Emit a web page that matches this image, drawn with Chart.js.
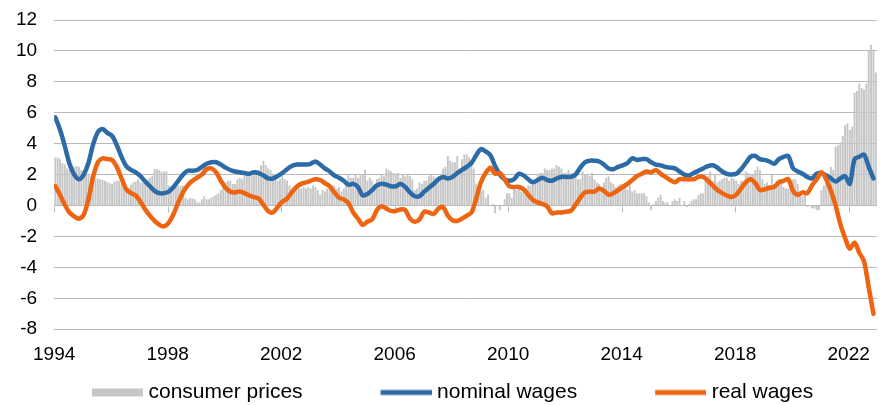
<!DOCTYPE html>
<html>
<head>
<meta charset="utf-8">
<title>Wages and consumer prices</title>
<script src="https://cdn.jsdelivr.net/npm/chart.js@4.4.1/dist/chart.umd.min.js"></script>
<style>
  html, body { margin: 0; padding: 0; background: #fff; }
  #wrap { width: 885px; height: 405px; }
</style>
</head>
<body>
<div id="wrap"><canvas id="wageChart"></canvas></div>
<script>
// Monthly series start in January of this year
const startYear = 1994;
const tickYears = [1994, 1998, 2002, 2006, 2010, 2014, 2018, 2022];

// Consumer prices, % yoy, one value per month (Jan 1994 - Dec 2022)
const consumerPrices = [
  3.1, 3.1, 3.0, 2.75, 2.65, 2.4, 2.3, 2.45, 2.5, 2.55, 2.5, 2.3,
  2.2, 2.1, 2.0, 1.9, 1.8, 1.7, 1.75, 1.7, 1.65, 1.6, 1.5, 1.45,
  1.4, 1.55, 1.6, 1.6, 1.45, 1.3, 1.2, 1.15, 1.35, 1.5, 1.55, 1.7,
  1.5, 1.45, 1.55, 1.7, 1.8, 1.9, 2.35, 2.35, 2.3, 2.15, 2.2, 2.2,
  1.3, 1.2, 1.25, 1.3, 1.3, 1.25, 1.3, 0.5, 0.4, 0.5, 0.45, 0.4,
  0.2, 0.2, 0.4, 0.6, 0.4, 0.4, 0.5, 0.6, 0.7, 0.8, 1.0, 1.2,
  1.5, 1.6, 1.6, 1.4, 1.4, 1.7, 1.8, 1.7, 2.0, 2.0, 2.1, 1.9,
  2.2, 2.3, 2.3, 2.6, 2.9, 2.6, 2.4, 2.3, 2.0, 1.8, 1.6, 1.7,
  1.9, 1.7, 1.6, 1.3, 1.1, 0.9, 1.1, 1.1, 1.1, 1.2, 1.1, 1.2,
  1.1, 1.3, 1.2, 1.0, 0.7, 1.0, 0.9, 1.1, 1.1, 1.2, 1.3, 1.1,
  1.2, 0.9, 1.1, 1.6, 2.0, 1.8, 1.8, 2.0, 1.8, 2.0, 2.0, 2.3,
  1.6, 1.8, 1.6, 1.4, 1.7, 1.8, 2.0, 1.9, 2.4, 2.3, 2.2, 2.1,
  2.0, 2.1, 1.8, 2.0, 1.9, 2.0, 1.9, 1.7, 1.0, 1.1, 1.5, 1.4,
  1.6, 1.6, 1.9, 2.0, 1.9, 1.8, 1.9, 1.9, 2.4, 2.5, 3.2, 2.9,
  2.8, 2.8, 3.2, 2.4, 3.0, 3.3, 3.3, 3.1, 2.9, 2.4, 1.4, 1.1,
  0.9, 1.0, 0.5, 0.7, 0.0, 0.1, -0.5, 0.0, -0.3, 0.0, 0.4, 0.8,
  0.8, 0.5, 1.1, 1.0, 1.2, 0.9, 1.2, 1.0, 1.3, 1.3, 1.5, 1.7,
  2.0, 2.1, 2.1, 2.4, 2.3, 2.3, 2.4, 2.4, 2.6, 2.5, 2.4, 2.1,
  2.1, 2.3, 2.1, 2.1, 1.9, 1.7, 1.7, 2.2, 2.0, 2.0, 1.9, 2.1,
  1.7, 1.5, 1.4, 1.2, 1.5, 1.8, 1.9, 1.5, 1.4, 1.2, 1.3, 1.4,
  1.3, 1.2, 1.0, 1.3, 0.9, 1.0, 0.8, 0.8, 0.8, 0.8, 0.6, 0.2,
  -0.3, 0.1, 0.3, 0.5, 0.7, 0.3, 0.2, 0.2, 0.0, 0.3, 0.4, 0.3,
  0.5, 0.0, 0.3, -0.1, 0.1, 0.3, 0.4, 0.4, 0.7, 0.8, 0.8, 1.7,
  1.9, 2.2, 1.6, 2.0, 1.5, 1.6, 1.7, 1.8, 1.8, 1.6, 1.8, 1.7,
  1.6, 1.4, 1.6, 1.6, 2.2, 2.1, 2.0, 2.0, 2.3, 2.5, 2.3, 1.7,
  1.4, 1.5, 1.3, 2.0, 1.4, 1.6, 1.7, 1.4, 1.2, 1.1, 1.1, 1.5,
  1.7, 1.7, 1.4, 0.9, 0.6, 0.9, -0.1, 0.0, -0.2, -0.2, -0.3, -0.3,
  1.0, 1.3, 1.7, 2.0, 2.5, 2.3, 3.8, 3.9, 4.1, 4.5, 5.2, 5.3,
  4.9, 5.1, 7.3, 7.4, 7.9, 7.6, 7.5, 7.9, 10.0, 10.4, 10.0, 8.6
];

// Wage lines, read every second month (Jan, Mar, May, ...)
const lineStep = 2;
const nominalWages = [
  5.7, 4.9, 3.85, 2.7, 2.0, 1.7, 2.0, 2.75, 3.95, 4.75, 4.95, 4.7,
  4.5, 3.9, 3.15, 2.55, 2.3, 2.15, 1.9, 1.55, 1.25, 0.95, 0.8, 0.8,
  0.9, 1.2, 1.6, 2.0, 2.25, 2.25, 2.3, 2.5, 2.7, 2.8, 2.8, 2.65,
  2.45, 2.3, 2.2, 2.15, 2.1, 2.05, 2.15, 2.1, 1.95, 1.75, 1.75, 1.9,
  2.1, 2.35, 2.55, 2.65, 2.65, 2.65, 2.7, 2.85, 2.65, 2.4, 2.2, 1.95,
  1.8, 1.6, 1.35, 1.4, 1.2, 0.65, 0.75, 1.0, 1.3, 1.4, 1.35, 1.25,
  1.25, 1.4, 1.2, 0.85, 0.6, 0.6, 0.9, 1.15, 1.4, 1.7, 1.85, 1.75,
  1.85, 2.1, 2.3, 2.5, 2.75, 3.25, 3.65, 3.5, 3.25, 2.55, 2.0, 1.7,
  1.6, 1.7, 2.05, 1.95, 1.7, 1.5, 1.65, 1.8, 1.65, 1.6, 1.75, 1.85,
  1.85, 1.85, 2.0, 2.45, 2.8, 2.9, 2.9, 2.85, 2.65, 2.4, 2.35, 2.5,
  2.6, 2.75, 3.05, 2.95, 3.0, 3.0, 2.8, 2.65, 2.6, 2.5, 2.45, 2.4,
  2.2, 2.0, 1.95, 2.1, 2.25, 2.4, 2.55, 2.6, 2.45, 2.2, 2.05, 2.0,
  2.05, 2.35, 2.75, 3.15, 3.2, 3.0, 2.95, 2.85, 2.7, 3.0, 3.15, 3.2,
  2.4, 2.2, 2.05, 1.85, 1.75, 2.05, 2.1, 1.95, 1.75, 1.55, 1.75, 1.9,
  1.4, 3.0, 3.15, 3.3, 2.5, 1.75
];
const realWages = [
  1.25, 0.7, 0.05, -0.45, -0.7, -0.85, -0.6, 0.4, 1.85, 2.8, 3.05, 3.0,
  2.95, 2.5, 1.75, 1.05, 0.8, 0.65, 0.25, -0.25, -0.65, -1.0, -1.25, -1.35,
  -1.1, -0.55, 0.2, 0.85, 1.3, 1.6, 1.8, 2.0, 2.35, 2.4, 2.15, 1.6,
  1.15, 0.9, 0.85, 0.9, 0.8, 0.65, 0.55, 0.45, 0.05, -0.35, -0.45, -0.1,
  0.25, 0.45, 0.85, 1.2, 1.4, 1.5, 1.6, 1.7, 1.65, 1.45, 1.25, 0.85,
  0.5, 0.4, 0.15, -0.45, -0.85, -1.25, -1.05, -0.9, -0.3, -0.05, -0.2, -0.35,
  -0.35, -0.25, -0.3, -0.85, -1.05, -0.9, -0.4, -0.45, -0.55, -0.2, -0.1, -0.65,
  -0.95, -1.0, -0.85, -0.65, -0.45, 0.45, 1.5, 2.1, 2.45, 2.05, 2.1, 1.7,
  1.25, 1.2, 1.2, 1.05, 0.7, 0.35, 0.2, 0.1, -0.05, -0.5, -0.45, -0.45,
  -0.4, -0.35, 0.05, 0.5, 0.85, 0.9, 0.9, 1.1, 0.95, 0.7, 0.8, 1.0,
  1.2, 1.4, 1.65, 1.9, 2.05, 2.2, 2.15, 2.3, 2.05, 1.85, 1.65, 1.5,
  1.7, 1.7, 1.7, 1.7, 1.85, 1.85, 1.6, 1.3, 1.0, 0.8, 0.65, 0.55,
  0.7, 1.1, 1.5, 1.7, 1.45, 1.0, 1.05, 1.15, 1.2, 1.5, 1.6, 1.7,
  0.95, 0.7, 0.85, 0.8, 1.3, 1.7, 2.15, 1.7, 0.95, 0.0, -1.2, -2.1,
  -2.8, -2.4, -3.05, -3.6, -5.3, -7.0
];

const fontFamily = '"Liberation Sans", Arial, sans-serif';
const gridColor = '#b9b9b9';
const barColor = '#c6c6c6';
const blue = '#2c6ba6';
const orange = '#ee6410';

// x position of a month, centred in the month
const monthX = m => startYear + (m + 0.5) / 12;

// legend swatch sits at the right end of a wide slot, which leaves room between items
function legendSwatch(color, height) {
  const c = document.createElement('canvas');
  c.width = 132;
  c.height = 12;
  const g = c.getContext('2d');
  g.fillStyle = color;
  g.fillRect(81, (12 - height) / 2, 51, height);
  return c;
}

// tick marks sit on the zero line, labels stay at the bottom
const zeroLineTicks = {
  id: 'zeroLineTicks',
  beforeDatasetsDraw(chart) {
    const { ctx, scales: { x, y } } = chart;
    const y0 = Math.round(y.getPixelForValue(0)) + 0.5;
    ctx.save();
    ctx.strokeStyle = gridColor;
    ctx.lineWidth = 1;
    ctx.beginPath();
    tickYears.forEach(t => {
      const px = Math.round(x.getPixelForValue(t)) + 0.5;
      ctx.moveTo(px, y0);
      ctx.lineTo(px, y0 + 6);
    });
    ctx.stroke();
    ctx.restore();
  }
};

const ctx = document.getElementById('wageChart');

new Chart(ctx, {
  type: 'bar',
  data: {
    datasets: [
      {
        type: 'bar',
        label: 'consumer prices',
        data: consumerPrices.map((v, i) => ({ x: monthX(i), y: v })),
        backgroundColor: barColor,
        borderWidth: 0,
        barPercentage: 0.95,
        categoryPercentage: 0.85,
        order: 3
      },
      {
        type: 'line',
        label: 'nominal wages',
        data: nominalWages.map((v, i) => ({ x: monthX(i * lineStep), y: v })),
        borderColor: blue,
        backgroundColor: blue,
        borderWidth: 4.5,
        pointRadius: 0,
        tension: 0.3,
        borderJoinStyle: 'round',
        borderCapStyle: 'round',
        order: 2
      },
      {
        type: 'line',
        label: 'real wages',
        data: realWages.map((v, i) => ({ x: monthX(i * lineStep), y: v })),
        borderColor: orange,
        backgroundColor: orange,
        borderWidth: 4.5,
        pointRadius: 0,
        tension: 0.3,
        borderJoinStyle: 'round',
        borderCapStyle: 'round',
        order: 1
      }
    ]
  },
  options: {
    responsive: true,
    maintainAspectRatio: false,
    animation: false,
    layout: { padding: { left: 14, right: 8, top: 20, bottom: -8 } },
    scales: {
      x: {
        type: 'linear',
        min: 1994,
        max: 2023,
        offset: false,
        grid: { display: false, drawTicks: false, offset: false },
        border: { display: false },
        afterBuildTicks: scale => {
          scale.ticks = tickYears.map(v => ({ value: v }));
        },
        ticks: {
          padding: 14,
          autoSkip: false,
          maxRotation: 0,
          color: '#000',
          font: { family: fontFamily, size: 19 },
          callback: v => String(v)
        }
      },
      y: {
        min: -8,
        max: 12,
        // invisible tick marks push the labels away from the plot
        grid: { color: gridColor, drawTicks: true, tickLength: 15, tickColor: 'rgba(0,0,0,0)' },
        border: { display: false },
        ticks: {
          stepSize: 2,
          padding: 2,
          color: '#000',
          font: { family: fontFamily, size: 19 }
        }
      }
    },
    plugins: {
      tooltip: { enabled: false },
      legend: {
        position: 'bottom',
        align: 'start',
        labels: {
          usePointStyle: true,
          pointStyleWidth: 122,
          boxHeight: 12,
          padding: 2,
          color: '#000',
          font: { family: fontFamily, size: 21 },
          generateLabels: chart => chart.data.datasets.map((ds, i) => ({
            text: ds.label,
            fillStyle: ds.backgroundColor,
            strokeStyle: ds.borderColor,
            lineWidth: 0,
            fontColor: '#000',
            pointStyle: legendSwatch(ds.type === 'line' ? ds.borderColor : ds.backgroundColor, ds.type === 'line' ? 5 : 8),
            hidden: false,
            datasetIndex: i
          }))
        }
      }
    }
  },
  plugins: [zeroLineTicks]
});
</script>
</body>
</html>
